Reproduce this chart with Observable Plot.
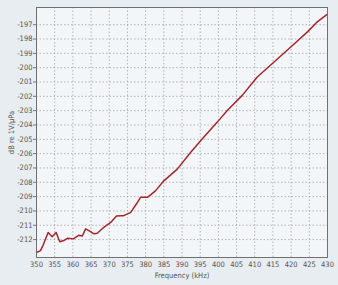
<!DOCTYPE html>
<html>
<head>
<meta charset="utf-8">
<script src="https://cdn.jsdelivr.net/npm/d3@7"></script>
<script src="https://cdn.jsdelivr.net/npm/@observablehq/plot@0.6"></script>
<style>
  html, body { margin: 0; padding: 0; background: #e8edf1; }
  #chart { width: 338px; height: 285px; }
  svg { display: block; }
</style>
</head>
<body>
<div id="chart"></div>
<script>
const freq = [350, 351.1, 351.8, 353.2, 354.3, 355.4, 356.4, 357.5, 358.6, 360.1, 361.6, 362.6, 363.5, 364.4, 365.8, 366.7, 368.5, 370.4, 372.0, 373.2, 374.0, 375.9, 377.5, 378.6, 380.5, 382.7, 385.0, 388.7, 392.4, 395.6, 399.7, 402.5, 406.5, 410.7, 415.3, 419.9, 424.5, 427.2, 429.8];
const level = [-212.9, -212.77, -212.4, -211.5, -211.8, -211.5, -212.15, -212.07, -211.9, -211.95, -211.7, -211.75, -211.25, -211.37, -211.6, -211.56, -211.14, -210.8, -210.35, -210.33, -210.33, -210.1, -209.5, -209.05, -209.05, -208.6, -207.9, -207.08, -205.9, -204.96, -203.8, -202.97, -201.95, -200.65, -199.6, -198.56, -197.5, -196.8, -196.3];
const xTicks = d3.range(350, 431, 5);
const yTicks = d3.range(-212, -196, 1);

const data = freq.map((f, i) => ({f, v: level[i]}));
const font = "'Liberation Sans Narrow', 'DejaVu Sans Condensed', sans-serif";

const chart = Plot.plot({
  width: 338,
  height: 285,
  marginLeft: 36,
  marginRight: 11,
  marginTop: 7,
  marginBottom: 28,
  style: {background: "transparent", fontFamily: font, fontSize: "7.5px", color: "#555"},
  x: {domain: [350, 430]},
  y: {domain: [-213.25, -195.8]},
  marks: [
    Plot.rect([0], {x1: 350, x2: 430, y1: -213.25, y2: -195.8, fill: "#f3f6f8"}),
    Plot.gridX(xTicks, {stroke: "#999", strokeOpacity: 0.7, strokeDasharray: "1.5,2"}),
    Plot.gridY(yTicks, {stroke: "#999", strokeOpacity: 0.7, strokeDasharray: "1.5,2"}),
    Plot.axisX(xTicks, {tickSize: 0, tickPadding: 4, fill: "#555", tickFormat: d => String(d), label: "Frequency (kHz)", labelAnchor: "center", labelArrow: "none", labelOffset: 20}),
    Plot.axisY(yTicks, {tickSize: 3, tickPadding: 1, stroke: "#777", fill: "#555", tickFormat: d => String(d), label: "dB re 1V/µPa", labelAnchor: "center", labelArrow: "none", labelOffset: 28}),
    Plot.line(data, {x: "f", y: "v", stroke: "#a3262d", strokeWidth: 1.5, curve: "linear"}),
    Plot.frame({stroke: "#707070", strokeWidth: 1})
  ]
});
document.getElementById("chart").appendChild(chart);
</script>
</body>
</html>
